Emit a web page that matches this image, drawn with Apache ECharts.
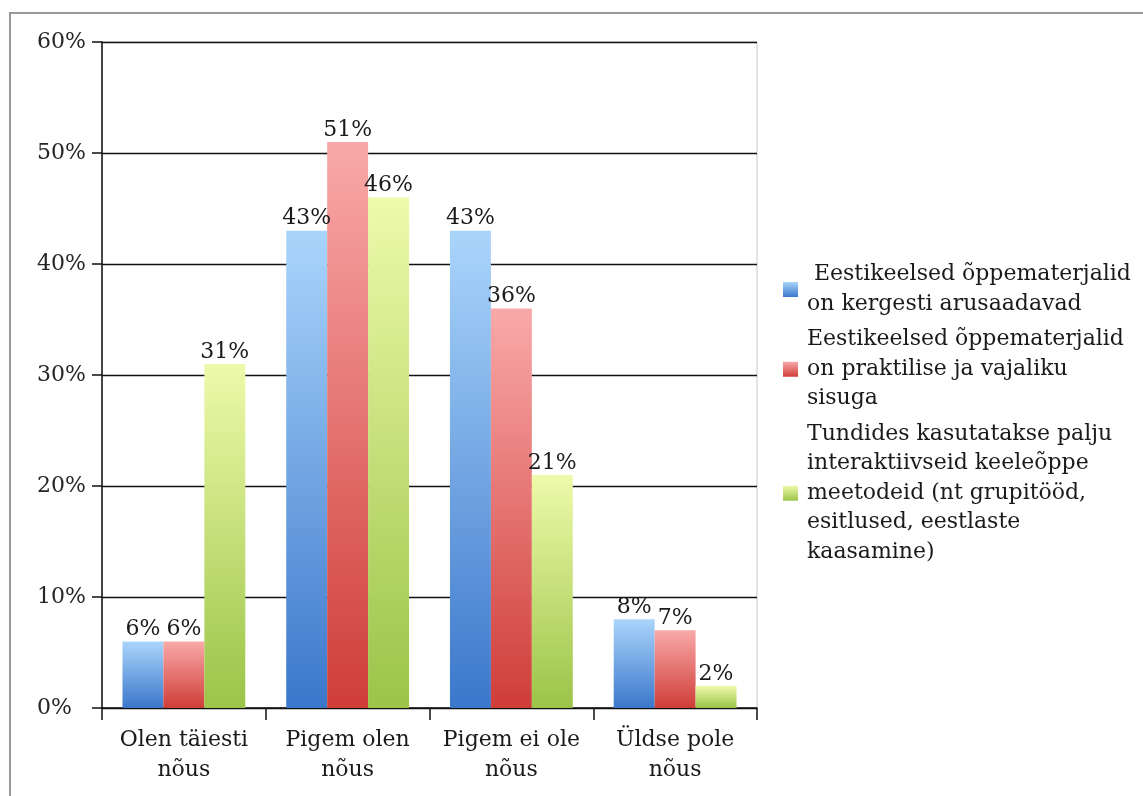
<!DOCTYPE html>
<html>
<head>
<meta charset="utf-8">
<script src="https://cdn.jsdelivr.net/npm/echarts@6/dist/echarts.min.js"></script>
<style>
  html, body { margin: 0; padding: 0; background: #fff; }
  #chart { width: 1143px; height: 796px; }
</style>
</head>
<body>
<div id="chart"></div>
<script>
// Survey answers (share of respondents) for three statements
const categories = ['Olen täiesti\nnõus', 'Pigem olen\nnõus', 'Pigem ei ole\nnõus', 'Üldse pole\nnõus'];
const seriesNames = [
  ' Eestikeelsed õppematerjalid\non kergesti arusaadavad',
  'Eestikeelsed õppematerjalid\non praktilise ja vajaliku\nsisuga',
  'Tundides kasutatakse palju\ninteraktiivseid keeleõppe\nmeetodeid (nt grupitööd,\nesitlused, eestlaste\nkaasamine)'
];
const easyToUnderstand = [6, 43, 43, 8];
const practicalContent = [6, 51, 36, 7];
const interactiveMethods = [31, 46, 21, 2];
const yTicks = [0, 10, 20, 30, 40, 50, 60];

const serifFont = '"DejaVu Serif", "Liberation Serif", serif';
const textColor = '#1a1a1a';

function grad(top, bottom) {
  return new echarts.graphic.LinearGradient(0, 0, 0, 1, [
    { offset: 0, color: top },
    { offset: 1, color: bottom }
  ]);
}

const palette = [
  grad('#aad5fb', '#3b77cb'),
  grad('#f9a9a9', '#cf3d38'),
  grad('#eefaaa', '#9bc448')
];

const chart = echarts.init(document.getElementById('chart'), null, { renderer: 'canvas' });

function barSeries(name, data, i) {
  return {
    name: name,
    type: 'bar',
    data: data,
    barGap: '0%',
    barCategoryGap: '25%',
    itemStyle: { color: palette[i] },
    label: {
      show: true,
      position: 'top',
      distance: 1,
      formatter: p => p.value + '%',
      fontFamily: serifFont,
      fontSize: 22,
      color: textColor
    }
  };
}

chart.setOption({
  animation: false,
  backgroundColor: '#fff',
  graphic: [{
    type: 'rect',
    shape: { x: 10, y: 13, width: 1160, height: 800 },
    style: { fill: null, stroke: '#999', lineWidth: 2 },
    silent: true
  }],
  grid: {
    left: 102, right: 386, top: 42, bottom: 88,
    show: true, borderColor: '#c8c8c8', borderWidth: 1
  },
  legend: {
    orient: 'vertical',
    left: 783,
    top: 260,
    padding: 0,
    itemWidth: 15,
    itemHeight: 15,
    itemGap: 6,
    icon: 'rect',
    data: seriesNames,
    textStyle: {
      fontFamily: serifFont,
      fontSize: 22,
      lineHeight: 29.5,
      color: textColor,
      padding: [0, 0, 0, 4]
    }
  },
  xAxis: {
    type: 'category',
    data: categories,
    axisLine: { lineStyle: { color: '#111', width: 1.5 } },
    axisTick: { show: true, interval: 0, length: 12, lineStyle: { color: '#111', width: 1.5 } },
    axisLabel: {
      interval: 0,
      fontFamily: serifFont,
      fontSize: 22,
      lineHeight: 30,
      color: textColor,
      margin: 17
    }
  },
  yAxis: {
    type: 'value',
    min: yTicks[0],
    max: yTicks[yTicks.length - 1],
    interval: 10,
    axisLine: { show: true, lineStyle: { color: '#111', width: 1.5 } },
    axisTick: { show: true, length: 10, lineStyle: { color: '#111', width: 1.5 } },
    splitLine: { lineStyle: { color: '#111', width: 1.3 } },
    axisLabel: {
      formatter: v => v + '%',
      fontFamily: serifFont,
      fontSize: 22,
      color: '#262626',
      align: 'left',
      margin: 65
    }
  },
  series: [
    barSeries(seriesNames[0], easyToUnderstand, 0),
    barSeries(seriesNames[1], practicalContent, 1),
    barSeries(seriesNames[2], interactiveMethods, 2)
  ]
});
</script>
</body>
</html>
